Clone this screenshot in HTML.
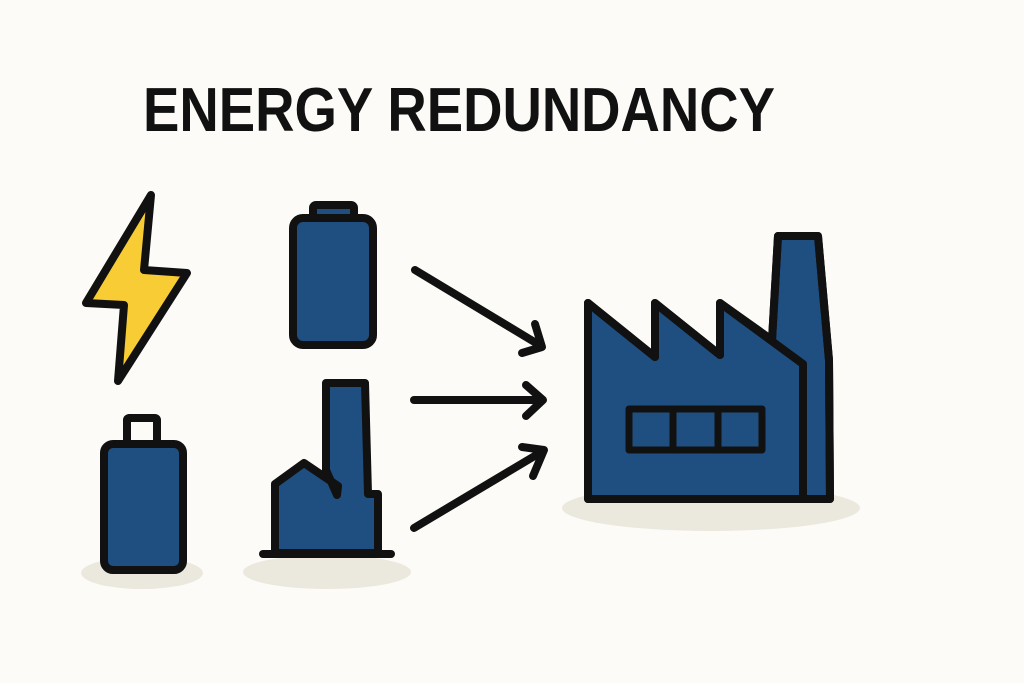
<!DOCTYPE html>
<html>
<head>
<meta charset="utf-8">
<style>
html,body{margin:0;padding:0;background:#fcfbf7;}
svg{display:block;}
</style>
</head>
<body>
<svg width="1024" height="683" viewBox="0 0 1024 683" xmlns="http://www.w3.org/2000/svg">
<rect width="1024" height="683" fill="#fcfbf7"/>
<text x="143" y="131" font-family="Liberation Sans, sans-serif" font-weight="bold" font-size="62" fill="#111" textLength="632" lengthAdjust="spacingAndGlyphs">ENERGY REDUNDANCY</text>

<!-- shadows -->
<ellipse cx="142" cy="573" rx="61" ry="16" fill="#ebe8dd"/>
<ellipse cx="327" cy="572" rx="84" ry="17" fill="#ebe8dd"/>
<ellipse cx="711" cy="508" rx="149" ry="23" fill="#ebe8dd"/>

<g stroke="#111" stroke-width="8" stroke-linejoin="round" stroke-linecap="round">
<!-- lightning -->
<polygon points="151,195 86,303 124,305 118,381 187,273 144,270" fill="#f8cc34"/>

<!-- top battery -->
<rect x="313" y="205" width="41" height="14" rx="3" fill="#1f4e80"/>
<rect x="293" y="218" width="80" height="127" rx="10" fill="#1f4e80"/>

<!-- bottom-left battery -->
<rect x="127" y="418" width="30" height="26" rx="2" fill="#fcfbf7"/>
<rect x="104" y="444" width="79" height="126" rx="9" fill="#1f4e80"/>

<!-- small factory -->
<path d="M275,553 L275,484 L304,463 L338,486 L337,495 L326,470 L326,383 L365,383 L368,494 L378,494 L378,553 Z" fill="#1f4e80"/>
<line x1="263" y1="554" x2="391" y2="554" stroke-width="8"/>

<!-- big factory -->
<path d="M588,499 L588,303 L655,357 L655,303 L720,355 L720,303 L772,340 L778,236 L818,236 L829,360 L830,499 Z" fill="#1f4e80"/>
<polyline points="588,303 655,357 655,303 720,355 720,303 803,364 803,499" fill="none"/>
<path d="M588,499 L588,303 M588,499 L830,499 L829,360 L818,236 L778,236 L772,340" fill="none"/>
<rect x="629" y="409" width="133" height="41" fill="#1f4e80" stroke-width="7"/>
<line x1="673" y1="409" x2="673" y2="450" stroke-width="7"/>
<line x1="718" y1="409" x2="718" y2="450" stroke-width="7"/>

<!-- arrows -->
<line x1="415" y1="270" x2="541" y2="346"/>
<polyline points="535,324 542,347 522,353" fill="none"/>
<line x1="414" y1="400" x2="542" y2="400"/>
<polyline points="526,385 543,400 526,416" fill="none"/>
<line x1="414" y1="528" x2="543" y2="451"/>
<polyline points="522,447 544,450 533,476" fill="none"/>
</g>
</svg>
</body>
</html>
